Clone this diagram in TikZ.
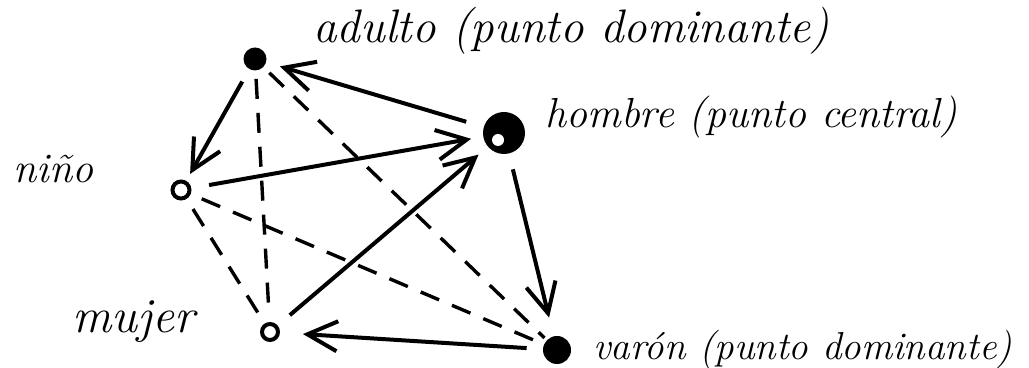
\documentclass[tikz,border=0pt]{standalone}
\usepackage{tikz}
\usetikzlibrary{arrows.meta}
\tikzset{
  punto/.style={circle,fill=black,inner sep=0pt},
  hueco/.style={circle,draw=black,fill=white,line width=2pt,inner sep=0pt},
  etiqueta/.style={anchor=base west,inner sep=0pt,font=\itshape\fontsize{#1}{24}\selectfont},
  etiqueta/.default=21,
  flecha/.style={->,line width=2pt},
  enlace/.style={line width=1.7pt,dash pattern=on 10pt off 7pt}
}
\begin{document}
\begin{tikzpicture}[x=0.5pt,y=-0.5pt,>={Straight Barb[length=15pt,width=15pt]}]
\useasboundingbox (0,0) rectangle (1029,368);
% puntos
\node[punto,minimum size=11.5pt] (adulto) at (255,59) {};
\node[punto,minimum size=21pt] (hombre) at (504,133) {};
\node[circle,fill=white,inner sep=0pt,minimum size=6pt] (centro) at (498,140) {};
\node[hueco,minimum size=8.5pt] (nino) at (181,190) {};
\node[hueco,minimum size=8pt] (mujer) at (270,332) {};
\node[punto,minimum size=14pt] (varon) at (557,350) {};
% textos
\node[etiqueta=23.5] (tadulto) at (313,43) {adulto (punto dominante)};
\node[etiqueta] (thombre) at (545,128) {hombre (punto central)};
\node[etiqueta] (tnino) at (13,183) {niño};
\node[etiqueta=24.5] (tmujer) at (72,333) {mujer};
\node[etiqueta=19.5] (tvaron) at (593,360) {varón (punto dominante)};
% flechas
\draw[flecha,shorten <=9pt,shorten >=7pt] (hombre) -- (adulto);
\draw[flecha,shorten <=7pt,shorten >=4pt] (adulto) -- (nino);
\draw[flecha,shorten <=9pt,shorten >=6pt] (nino) -- (hombre);
\draw[flecha,shorten <=8pt,shorten >=6pt] (mujer) -- (hombre);
\draw[flecha,shorten <=8pt,shorten >=9.5pt] (hombre) -- (varon);
\draw[flecha,shorten <=8pt,shorten >=11.5pt] (varon) -- (mujer);
% lineas de trazos
\draw[enlace,shorten <=4pt,shorten >=3pt] (adulto) -- (mujer);
\draw[enlace,shorten <=4pt,shorten >=1.5pt] (adulto) -- (varon);
\draw[enlace,shorten <=6pt,shorten >=2.5pt] (nino) -- (mujer);
\draw[enlace,shorten <=6pt,shorten >=3pt] (nino) -- (varon);
\end{tikzpicture}
\end{document}
